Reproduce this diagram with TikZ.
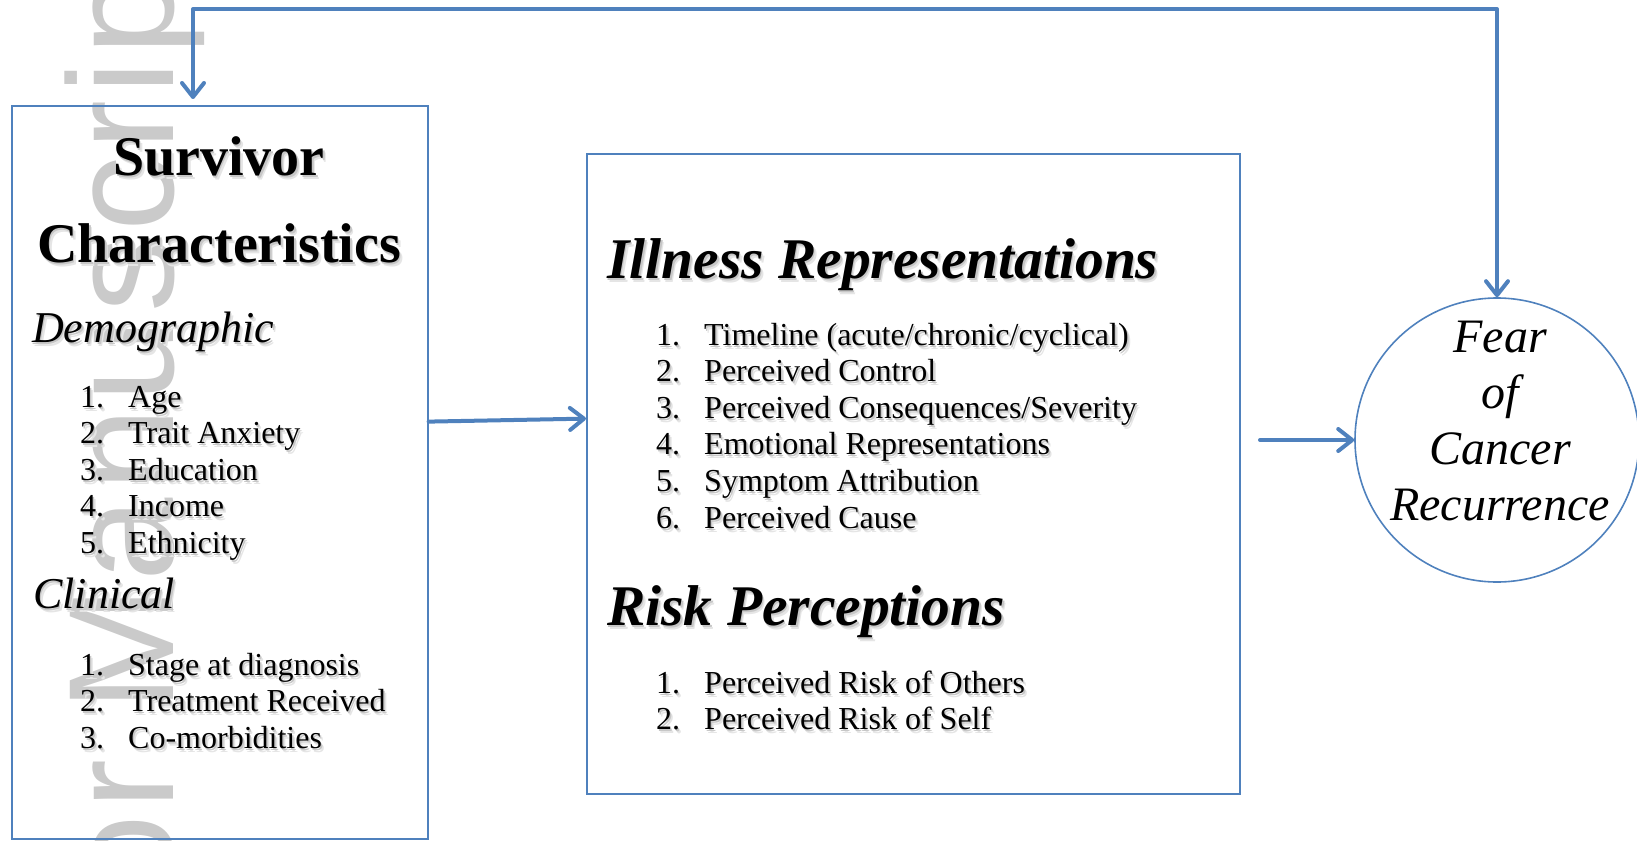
\documentclass[tikz,border=0pt]{standalone}
\usepackage{fontspec}
\usetikzlibrary{arrows.meta,calc}
\newfontfamily\listfont{Liberation Serif}
\newfontfamily\wmfont{Liberation Sans}[LetterSpace=4.0]
\definecolor{linkblue}{RGB}{79,129,189}
\definecolor{wmgray}{RGB}{202,202,202}
% soft drop shadow behind a piece of text
\newcommand\shd[1]{\leavevmode\rlap{\kern3pt\raisebox{-4pt}{\color{black!10}#1}}\rlap{\kern1.5pt\raisebox{-2pt}{\color{black!22}#1}}#1}
\tikzset{Chev/.tip={Straight Barb[length=14pt,width=22pt,line cap=round,line join=round]}}
\begin{document}
\begin{tikzpicture}[x=1pt,y=-1pt,
  frame/.style={draw=linkblue,line width=1.6pt,inner sep=0pt},
  flow/.style={draw=linkblue,line width=4pt,line cap=round,line join=round,-Chev},
  txt/.style={inner sep=0pt,text=black},
  heading/.style={txt,font=\listfont\bfseries\fontsize{56}{56}\selectfont},
  subhead/.style={txt,font=\listfont\itshape\fontsize{44}{44}\selectfont},
  bihead/.style={txt,font=\listfont\bfseries\itshape\fontsize{57.5}{57.5}\selectfont},
  listtext/.style={txt,font=\listfont\fontsize{32}{36.6}\selectfont},
  fcrtext/.style={txt,font=\listfont\itshape\fontsize{48}{56}\selectfont}]
\useasboundingbox (0,0) rectangle (1637,840);
\clip (0,0) rectangle (1637,840);

% watermark
\node[rotate=90,anchor=base west,inner sep=0pt,text=wmgray,
      font=\wmfont\fontsize{150}{150}\selectfont] (wm) at (173,712) {\llap{Author\ }Manuscript};

% boxes and the outcome circle
\node[frame,anchor=north west,minimum width=416pt,minimum height=733pt] (lbox) at (11,105) {};
\node[frame,anchor=north west,minimum width=653pt,minimum height=640pt] (mbox) at (586,153) {};
\node[frame,circle,minimum size=284pt] (fcr) at (1497,440) {};

% left box: survivor characteristics
\node[heading,anchor=base] (surv) at (219,175) {\shd{Survivor}};
\node[heading,anchor=base] (char) at (219,262) {\shd{Characteristics}};
\node[subhead,anchor=base west] (demo) at (32,342) {\shd{Demographic}};
\node[listtext,anchor=base west] (demolist) at (80,407) {\shd{\begin{tabular}[t]{@{}l@{}}
  \makebox[48pt][l]{1.}Age\\
  \makebox[48pt][l]{2.}Trait Anxiety\\
  \makebox[48pt][l]{3.}Education\\
  \makebox[48pt][l]{4.}Income\\
  \makebox[48pt][l]{5.}Ethnicity\end{tabular}}};
\node[subhead,anchor=base west] (clin) at (33,608) {\shd{Clinical}};
\node[listtext,anchor=base west] (clinlist) at (80,675) {\shd{\begin{tabular}[t]{@{}l@{}}
  \makebox[48pt][l]{1.}Stage at diagnosis\\
  \makebox[48pt][l]{2.}Treatment Received\\
  \makebox[48pt][l]{3.}Co-morbidities\end{tabular}}};

% middle box: illness representations and risk perceptions
\node[bihead,anchor=base west] (ill) at (607,278) {\shd{Illness Representations}};
\node[listtext,anchor=base west] (illlist) at (656,345) {\shd{\begin{tabular}[t]{@{}l@{}}
  \makebox[48pt][l]{1.}Timeline (acute/chronic/cyclical)\\
  \makebox[48pt][l]{2.}Perceived Control\\
  \makebox[48pt][l]{3.}Perceived Consequences/Severity\\
  \makebox[48pt][l]{4.}Emotional Representations\\
  \makebox[48pt][l]{5.}Symptom Attribution\\
  \makebox[48pt][l]{6.}Perceived Cause\end{tabular}}};
\node[bihead,anchor=base west] (risk) at (607,625) {\shd{Risk Perceptions}};
\node[listtext,anchor=base west] (risklist) at (656,693) {\shd{\begin{tabular}[t]{@{}l@{}}
  \makebox[48pt][l]{1.}Perceived Risk of Others\\
  \makebox[48pt][l]{2.}Perceived Risk of Self\end{tabular}}};

% outcome label
\node[fcrtext,anchor=base] (fcrlabel) at (1500,352) {\begin{tabular}[t]{@{}c@{}}Fear\\of\\Cancer\\Recurrence\end{tabular}};

% connectors
\coordinate (a2start) at (1260,440);
\coordinate (fbtop) at (850,9);
\draw[flow] ($(lbox.north east)!0.431!(lbox.south east)$) -- ($(mbox.north west)!0.414!(mbox.south west)$);
\draw[flow] (a2start) -- (fcr.west);
\draw[flow,Chev-Chev,shorten <=6pt] ($(lbox.north west)+(182,0)$) |- (fbtop) -| (fcr.north);
\end{tikzpicture}
\end{document}
